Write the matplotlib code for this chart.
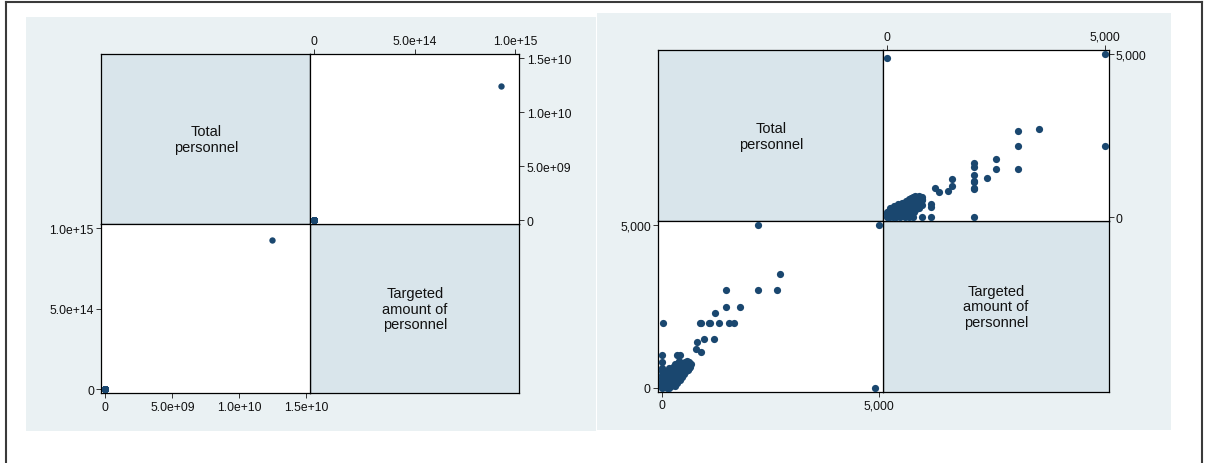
import matplotlib
matplotlib.use("Agg")
import matplotlib.pyplot as plt
from matplotlib.patches import Rectangle
from matplotlib.lines import Line2D

plt.rcParams['font.family'] = ['Liberation Sans', 'DejaVu Sans']

# ---------------------------------------------------------------- data
var_labels = ["Total\npersonnel", "Targeted\namount of\npersonnel"]

# (total personnel, targeted amount of personnel) per observation
total_personnel = [
    1.24e10,
    2200, 5000, 4900, 2720, 1470, 2200, 2650, 1470, 1800, 1210,
    20, 870, 900, 1070, 1100, 1300, 1530, 1660,
    950, 1190, 800, 780, 900,
    0, 0, 330, 410, 380, 570, 610, 520, 610,
    0, 0, 0, 0, 0, 0, 0, 0,
    10, 20, 30, 40, 50, 60, 70, 80, 90,
    100, 100, 100, 100, 100,
    120, 140, 150, 150, 150, 150, 160,
    180, 200, 200, 200, 200, 200,
    220, 240, 250, 250, 250,
    280, 300, 300, 300, 300, 300,
    330, 350, 350, 370, 400, 400, 400, 400,
    430, 450, 460, 480, 500, 500, 520,
    550, 560, 580, 600, 620, 640, 660,
]
targeted_personnel = [
    9.3e14,
    5000, 5000, 0, 3500, 3000, 3000, 3000, 2500, 2500, 2300,
    2000, 2000, 2000, 2000, 2000, 2000, 2000, 2000,
    1500, 1500, 1400, 1200, 1100,
    1000, 800, 1000, 1000, 810, 810, 600, 800, 800,
    0, 50, 120, 200, 300, 400, 500, 600,
    10, 40, 15, 80, 30, 150, 60, 250, 110,
    0, 60, 180, 350, 500,
    90, 220, 0, 140, 300, 450, 620,
    200, 40, 150, 260, 380, 550,
    320, 460, 100, 230, 650,
    300, 60, 200, 400, 560, 720,
    300, 150, 480, 620, 250, 380, 520, 700,
    450, 330, 600, 760, 420, 520, 680,
    500, 600, 760, 550, 650, 640, 720,
]

full_total_ticks = [0, 5e9, 1e10, 1.5e10]
full_total_labels = ["0", "5.0e+09", "1.0e+10", "1.5e+10"]
full_target_ticks = [0, 5e14, 1e15]
full_target_labels = ["0", "5.0e+14", "1.0e+15"]

small_cap = 5000
small_ticks = [0, 5000]
small_labels = ["0", "5,000"]

# ---------------------------------------------------------------- style
W, H = 1206, 464
bg_color = "#EAF1F3"
diag_color = "#D9E5EB"
marker_color = "#1A476F"
tick_size = 8.7
label_size = 10.5

fig = plt.figure(figsize=(W / 100, H / 100), dpi=100)
fig.patch.set_facecolor("white")


def px_axes(x0, y0, x1, y1):
    return fig.add_axes([x0 / W, 1 - y1 / H, (x1 - x0) / W, (y1 - y0) / H])


def padded(lo, hi, npx, pad_px=4.0):
    unit = (hi - lo) / (npx - 2 * pad_px)
    return lo - pad_px * unit, hi + pad_px * unit


def style_cell(ax):
    for sp in ax.spines.values():
        sp.set_linewidth(0.9)
        sp.set_color("black")
    ax.tick_params(direction="out", length=3.6, width=0.7, pad=1.8,
                   labelsize=tick_size, color="#333333", labelcolor="#111111")


def diag_cell(ax, text):
    ax.set_facecolor(diag_color)
    ax.set_xticks([])
    ax.set_yticks([])
    style_cell(ax)
    ax.text(0.5, 0.5, text, transform=ax.transAxes, ha="center", va="center",
            fontsize=label_size, linespacing=1.15, color="#111111")


def scatter_matrix(xs, ys, cells, ticks_t, labels_t, ticks_g, labels_g, msize):
    (tl, ur, ll, br) = cells
    a = px_axes(*tl)
    diag_cell(a, var_labels[0])
    a = px_axes(*br)
    diag_cell(a, var_labels[1])

    # upper right: targeted (x, top) vs total (y, right)
    a = px_axes(*ur)
    a.set_facecolor("white")
    a.scatter(ys, xs, s=msize, c=marker_color, linewidths=0,
              clip_on=False, zorder=3)
    a.set_xlim(*padded(ticks_g[0], ticks_g[-1], ur[2] - ur[0]))
    a.set_ylim(*padded(ticks_t[0], ticks_t[-1], ur[3] - ur[1]))
    a.xaxis.tick_top()
    a.yaxis.tick_right()
    a.set_xticks(ticks_g, labels_g)
    a.set_yticks(ticks_t, labels_t)
    style_cell(a)

    # lower left: total (x, bottom) vs targeted (y, left)
    a = px_axes(*ll)
    a.set_facecolor("white")
    a.scatter(xs, ys, s=msize, c=marker_color, linewidths=0,
              clip_on=False, zorder=3)
    a.set_xlim(*padded(ticks_t[0], ticks_t[-1], ll[2] - ll[0]))
    a.set_ylim(*padded(ticks_g[0], ticks_g[-1], ll[3] - ll[1]))
    a.set_xticks(ticks_t, labels_t)
    a.set_yticks(ticks_g, labels_g)
    style_cell(a)


# panel backgrounds
fig.add_artist(Rectangle((26 / W, 1 - 432.3 / H), (595.7 - 26) / W,
                         (432.3 - 18) / H, transform=fig.transFigure,
                         facecolor=bg_color, edgecolor="none", zorder=-5))
fig.add_artist(Rectangle((597 / W, 1 - 431 / H), (1171 - 597) / W,
                         (431 - 14) / H, transform=fig.transFigure,
                         facecolor=bg_color, edgecolor="none", zorder=-5))

# outer frame (open at the bottom)
frame = dict(color="#3a3a3a", lw=1.5, transform=fig.transFigure)
fig.add_artist(Line2D([5.7 / W, 5.7 / W], [0, 1 - 3 / H], **frame))
fig.add_artist(Line2D([5.7 / W, 1201.7 / W], [1 - 3 / H, 1 - 3 / H], **frame))
fig.add_artist(Line2D([1201.7 / W, 1201.7 / W], [0, 1 - 3 / H], **frame))

# left matrix: all observations
left_cells = ((101.4, 55.3, 310.4, 225.3), (310.4, 55.3, 519.3, 225.3),
              (101.4, 225.3, 310.4, 394.3), (310.4, 225.3, 519.3, 394.3))
scatter_matrix(total_personnel, targeted_personnel, left_cells,
               full_total_ticks, full_total_labels,
               full_target_ticks, full_target_labels, msize=21)

# right matrix: observations up to the cap
sm_t, sm_g = [], []
for t, g in zip(total_personnel, targeted_personnel):
    if t <= small_cap and g <= small_cap:
        sm_t.append(t)
        sm_g.append(g)
right_cells = ((658.3, 51.3, 883.3, 222.3), (883.3, 51.3, 1108.5, 222.3),
               (658.3, 222.3, 883.3, 392.7), (883.3, 222.3, 1108.5, 392.7))
scatter_matrix(sm_t, sm_g, right_cells,
               small_ticks, small_labels, small_ticks, small_labels, msize=27)

fig.savefig("out.png", dpi=100, facecolor="white")
